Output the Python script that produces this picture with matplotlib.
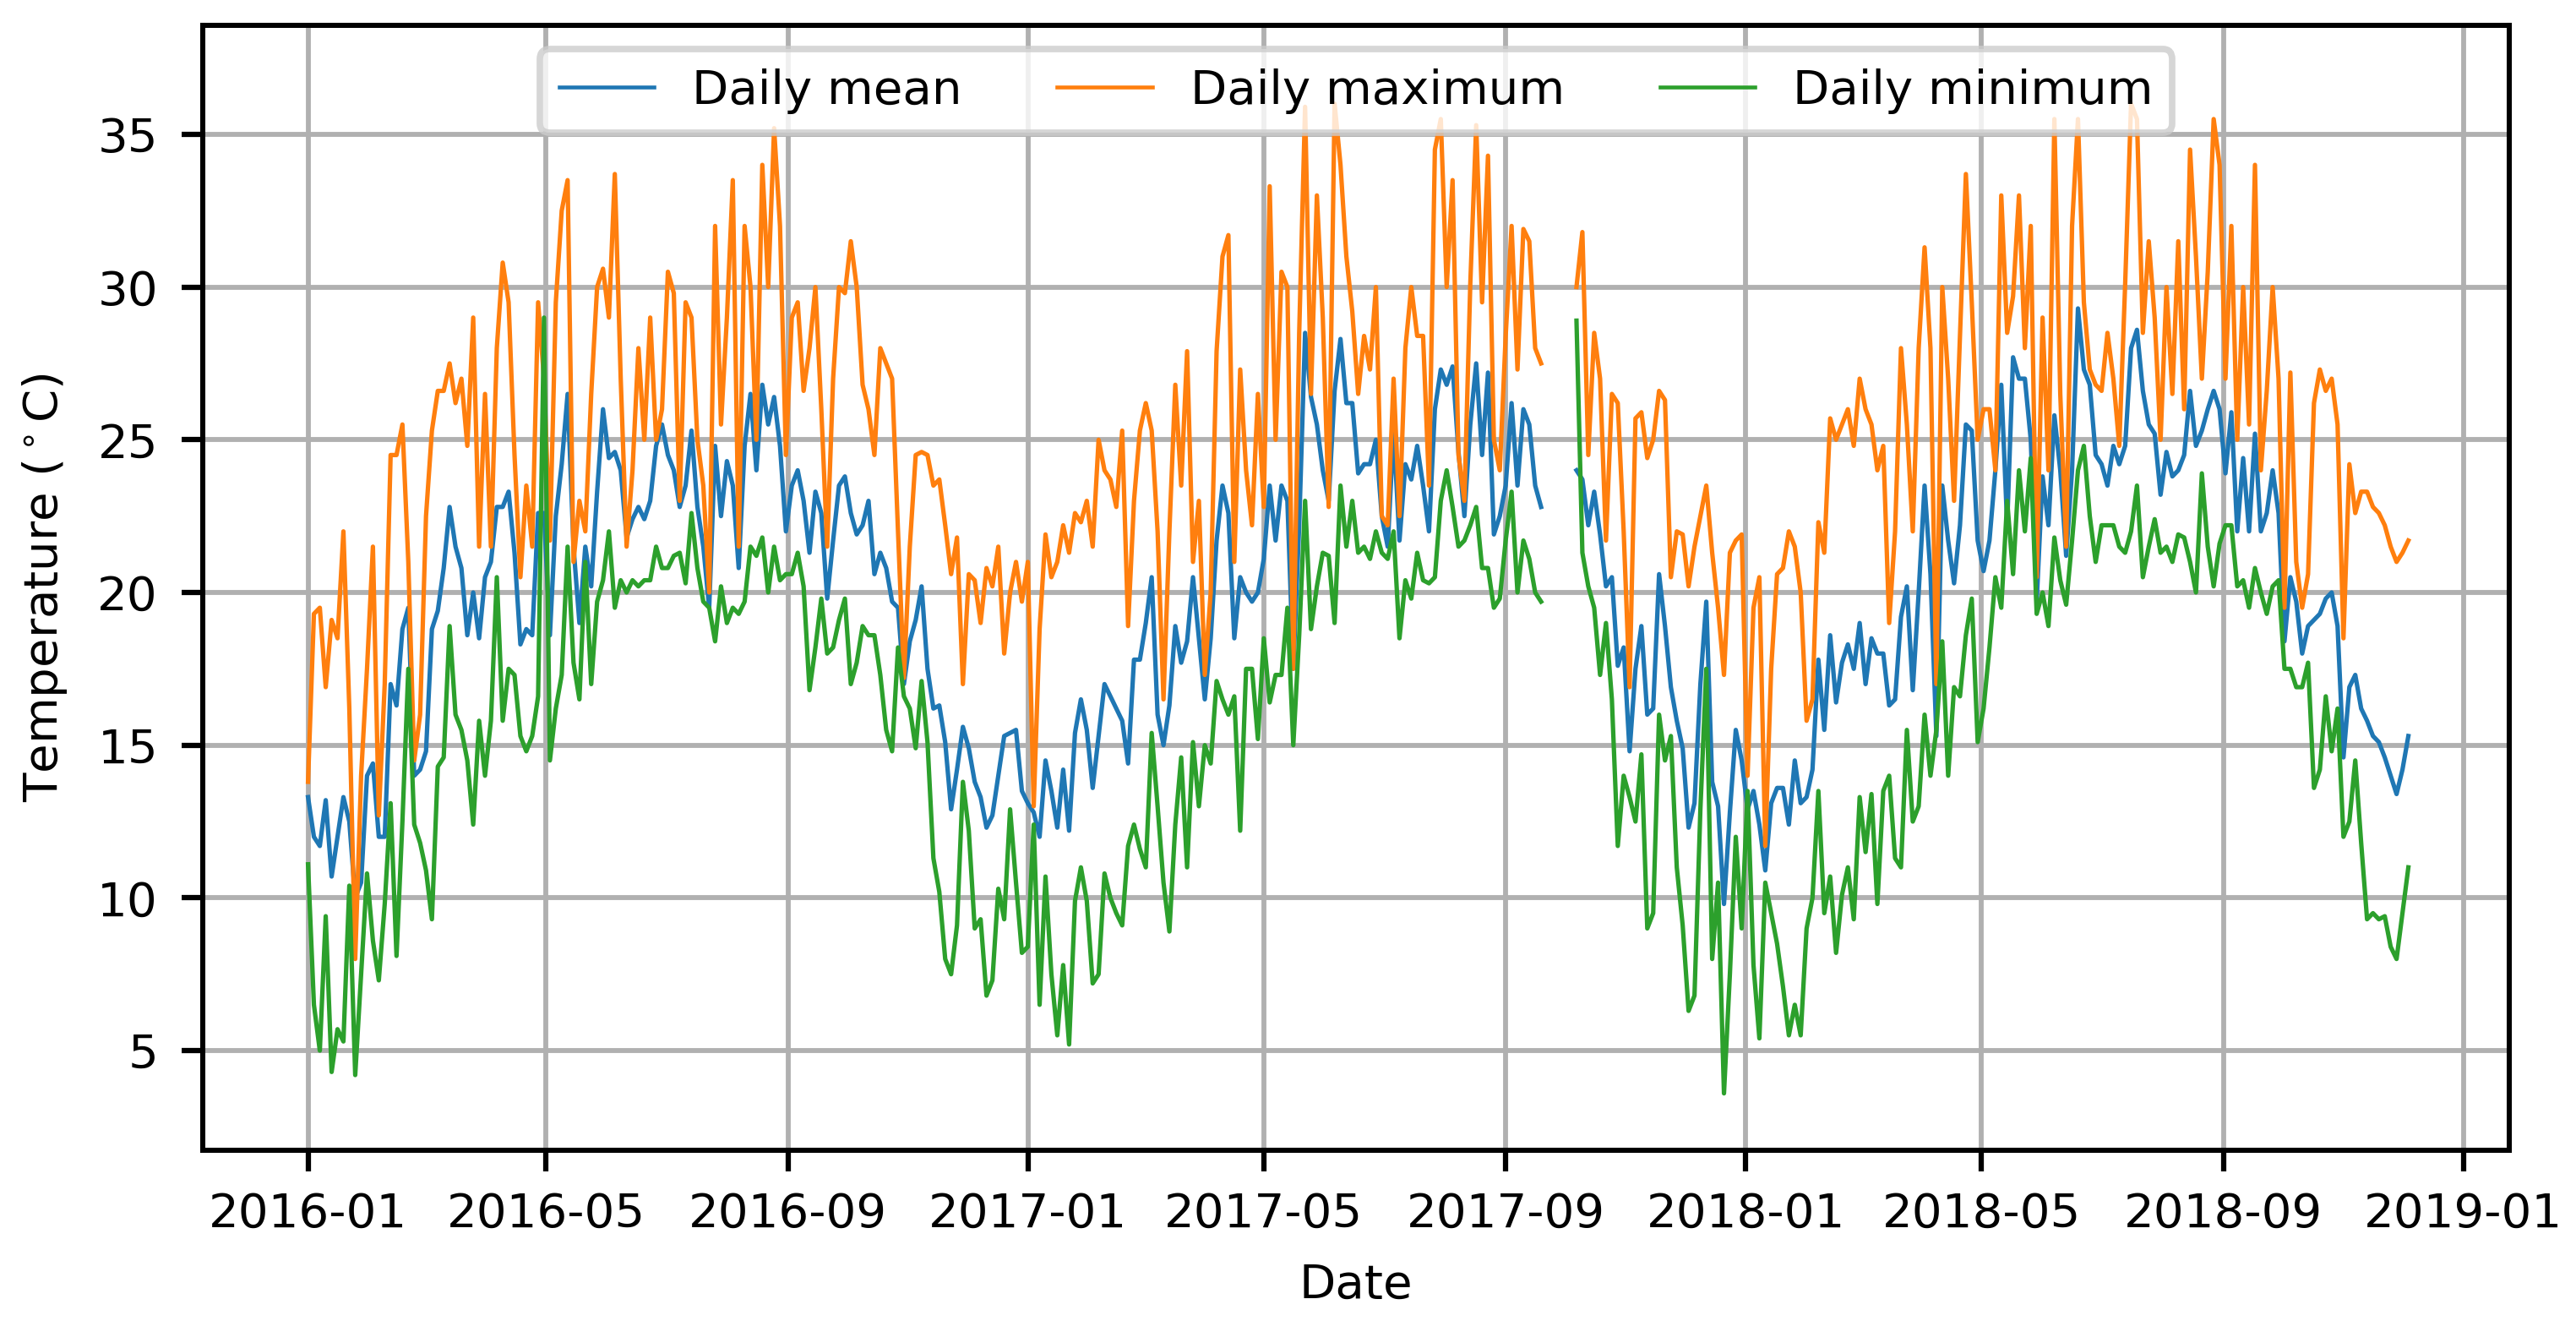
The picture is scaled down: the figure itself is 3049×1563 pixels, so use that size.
import numpy as np
import pandas as pd
import matplotlib
matplotlib.use("Agg")
import matplotlib.pyplot as plt
import matplotlib.dates as mdates

nan = np.nan

# values every 3 days from 2016-01-01 (gap late Sep 2017)
start = "2016-01-01"

daily_mean = [
    13.3, 12.0, 11.7, 13.2, 10.7, 12.0, 13.3, 12.5, 10.0, 10.5,
    14.0, 14.4, 12.0, 12.0, 17.0, 16.3, 18.8, 19.5, 14.0, 14.2,
    14.8, 18.8, 19.4, 20.8, 22.8, 21.5, 20.8, 18.6, 20.0, 18.5,
    20.5, 21.0, 22.8, 22.8, 23.3, 21.3, 18.3, 18.8, 18.6, 22.6,
    22.6, 18.6, 22.5, 24.2, 26.5, 21.5, 19.0, 21.5, 20.2, 23.3,
    26.0, 24.4, 24.6, 24.0, 21.8, 22.4, 22.8, 22.4, 23.0, 24.8,
    25.5, 24.5, 24.0,
    22.8, 23.5, 25.3, 22.8, 21.5, 19.5, 24.8, 22.5, 24.3, 23.5,
    20.8, 24.8, 26.5, 24.0, 26.8, 25.5, 26.4, 24.8, 22.0, 23.5,
    24.0, 23.0, 21.3, 23.3, 22.6, 19.8, 21.7, 23.5, 23.8, 22.6,
    21.9, 22.2, 23.0, 20.6, 21.3, 20.8, 19.7, 19.5, 17.0, 18.4,
    19.1, 20.2, 17.5, 16.2, 16.3, 15.1, 12.9, 14.2, 15.6, 14.9,
    13.8, 13.3, 12.3, 12.7, 14.0, 15.3, 15.4, 15.5, 13.5, 13.1,
    12.8, 12.0, 14.5,
    13.5, 12.3, 14.2, 12.2, 15.4, 16.5, 15.5, 13.6, 15.3, 17.0,
    16.6, 16.2, 15.8, 14.4, 17.8, 17.8, 19.0, 20.5, 16.0, 15.0,
    16.3, 18.9, 17.7, 18.4, 20.5, 18.5, 16.5, 18.5, 21.7, 23.5,
    22.6, 18.5, 20.5, 20.0, 19.7, 20.0, 21.1, 23.5, 21.7, 23.5,
    23.0, 17.5, 22.2, 28.5, 26.4, 25.5, 24.0, 23.0, 26.6, 28.3,
    26.2, 26.2, 23.9, 24.2, 24.2, 25.0, 22.5, 21.5, 25.3, 21.7,
    24.2, 23.7, 24.8,
    23.5, 22.0, 26.0, 27.3, 26.8, 27.4, 24.6, 22.5, 25.5, 27.5,
    24.5, 27.2, 21.9, 22.5, 23.5, 26.2, 23.5, 26.0, 25.5, 23.5,
    22.8, nan, nan, nan, nan, nan, 24.0, 23.7, 22.2, 23.3,
    21.9, 20.2, 20.5, 17.6, 18.2, 14.8, 17.5, 18.9, 16.0, 16.2,
    20.6, 18.9, 16.9, 15.8, 14.9, 12.3, 13.1, 17.0, 19.7, 13.8,
    13.0, 9.8, 12.8, 15.5, 14.5, 12.9, 13.5, 12.4, 10.9, 13.1,
    13.6, 13.6, 12.4,
    14.5, 13.1, 13.3, 14.2, 17.8, 15.5, 18.6, 16.4, 17.7, 18.3,
    17.5, 19.0, 17.0, 18.5, 18.0, 18.0, 16.3, 16.5, 19.2, 20.2,
    16.8, 20.0, 23.5, 20.6, 15.3, 23.5, 21.7, 20.3, 22.2, 25.5,
    25.3, 21.7, 20.7, 21.7, 24.0, 26.8, 22.2, 27.7, 27.0, 27.0,
    25.0, 19.7, 23.8, 22.2, 25.8, 24.0, 21.2, 24.0, 29.3, 27.3,
    26.8, 24.5, 24.2, 23.5, 24.8, 24.2, 24.8, 28.0, 28.6, 26.6,
    25.5, 25.2, 23.2,
    24.6, 23.8, 24.0, 24.5, 26.6, 24.8, 25.3, 26.0, 26.6, 26.0,
    23.9, 25.9, 22.0, 24.4, 22.0, 25.2, 22.0, 22.6, 24.0, 22.6,
    18.4, 20.5, 19.7, 18.0, 18.9, 19.1, 19.3, 19.8, 20.0, 18.9,
    14.6, 16.9, 17.3, 16.2, 15.8, 15.3, 15.1, 14.6, 14.0, 13.4,
    14.2, 15.3,
]

daily_max = [
    13.8, 19.3, 19.5, 16.9, 19.1, 18.5, 22.0, 16.2, 8.0, 14.0,
    17.5, 21.5, 12.7, 17.0, 24.5, 24.5, 25.5, 21.0, 14.5, 16.0,
    22.5, 25.3, 26.6, 26.6, 27.5, 26.2, 27.0, 24.8, 29.0, 21.5,
    26.5, 21.5, 28.0, 30.8, 29.5, 24.5, 20.5, 23.5, 21.5, 29.5,
    27.0, 21.7, 29.5, 32.5, 33.5, 21.0, 23.0, 22.0, 26.5, 30.0,
    30.6, 29.0, 33.7, 27.0, 21.5, 24.0, 28.0, 25.0, 29.0, 25.0,
    26.0, 30.5, 29.8,
    23.0, 29.5, 29.0, 25.0, 23.5, 20.0, 32.0, 25.5, 29.0, 33.5,
    21.5, 32.0, 30.0, 25.0, 34.0, 30.0, 35.2, 32.0, 24.5, 29.0,
    29.5, 26.6, 28.0, 30.0, 26.0, 21.5, 27.0, 30.0, 29.8, 31.5,
    30.0, 26.8, 26.0, 24.5, 28.0, 27.5, 27.0, 22.0, 17.2, 21.5,
    24.5, 24.6, 24.5, 23.5, 23.7, 22.2, 20.6, 21.8, 17.0, 20.6,
    20.4, 19.0, 20.8, 20.2, 21.5, 18.0, 20.0, 21.0, 19.7, 21.0,
    13.0, 18.8, 21.9,
    20.5, 21.0, 22.2, 21.3, 22.6, 22.3, 23.0, 21.5, 25.0, 24.0,
    23.7, 22.8, 25.3, 18.9, 23.0, 25.3, 26.2, 25.3, 22.0, 16.5,
    22.0, 26.8, 23.5, 27.9, 21.0, 23.0, 17.3, 20.0, 27.9, 31.0,
    31.7, 21.0, 27.3, 24.0, 22.2, 26.5, 22.8, 33.3, 25.0, 30.5,
    30.0, 17.5, 28.5, 35.9, 26.5, 33.0, 29.0, 22.8, 36.0, 34.0,
    31.0, 29.2, 26.5, 28.4, 27.3, 30.0, 22.5, 22.2, 27.0, 22.5,
    28.0, 30.0, 28.4,
    28.4, 23.5, 34.5, 35.5, 30.0, 33.5, 24.5, 23.0, 30.1, 35.3,
    29.5, 34.3, 25.0, 24.0, 28.4, 32.0, 27.3, 31.9, 31.5, 28.0,
    27.5, nan, nan, nan, nan, nan, 30.0, 31.8, 24.5, 28.5,
    27.0, 21.7, 26.5, 26.2, 22.0, 16.9, 25.7, 25.9, 24.4, 25.0,
    26.6, 26.3, 20.5, 22.0, 21.9, 20.2, 21.5, 22.5, 23.5, 21.3,
    19.5, 17.3, 21.3, 21.7, 21.9, 14.0, 19.5, 20.5, 11.7, 17.5,
    20.6, 20.8, 22.0,
    21.5, 20.0, 15.8, 16.5, 22.3, 21.3, 25.7, 25.0, 25.5, 26.0,
    24.8, 27.0, 26.0, 25.5, 24.0, 24.8, 19.0, 22.0, 28.0, 25.5,
    22.0, 28.0, 31.3, 28.0, 17.0, 30.0, 27.0, 23.0, 28.4, 33.7,
    29.5, 25.0, 26.0, 26.0, 24.0, 33.0, 28.5, 29.7, 33.0, 28.0,
    32.0, 20.5, 29.0, 24.0, 35.5, 26.5, 21.5, 32.0, 35.5, 29.5,
    27.3, 26.8, 26.6, 28.5, 27.0, 24.8, 30.1, 36.0, 35.5, 28.5,
    31.5, 29.0, 25.0,
    30.0, 26.5, 31.5, 26.0, 34.5, 31.0, 27.0, 30.5, 35.5, 34.0,
    27.0, 32.0, 25.0, 30.0, 25.5, 34.0, 24.0, 26.6, 30.0, 27.0,
    19.5, 27.2, 21.0, 19.5, 20.6, 26.2, 27.3, 26.6, 27.0, 25.5,
    18.5, 24.2, 22.6, 23.3, 23.3, 22.8, 22.6, 22.2, 21.5, 21.0,
    21.3, 21.7,
]

daily_min = [
    11.1, 6.5, 5.0, 9.4, 4.3, 5.7, 5.3, 10.4, 4.2, 7.5,
    10.8, 8.6, 7.3, 9.8, 13.1, 8.1, 12.5, 17.5, 12.4, 11.8,
    10.9, 9.3, 14.3, 14.6, 18.9, 16.0, 15.5, 14.5, 12.4, 15.8,
    14.0, 15.8, 20.5, 15.8, 17.5, 17.3, 15.3, 14.8, 15.3, 16.6,
    29.0, 14.5, 16.2, 17.3, 21.5, 17.7, 16.5, 21.0, 17.0, 19.7,
    20.4, 22.0, 19.5, 20.4, 20.0, 20.4, 20.2, 20.4, 20.4, 21.5,
    20.8, 20.8, 21.2,
    21.3, 20.3, 22.6, 20.8, 19.7, 19.5, 18.4, 20.2, 19.0, 19.5,
    19.3, 19.7, 21.5, 21.2, 21.8, 20.0, 21.5, 20.4, 20.6, 20.6,
    21.3, 20.2, 16.8, 18.2, 19.8, 18.0, 18.2, 19.1, 19.8, 17.0,
    17.7, 18.9, 18.6, 18.6, 17.3, 15.5, 14.8, 18.2, 16.6, 16.2,
    14.9, 17.1, 15.1, 11.3, 10.2, 8.0, 7.5, 9.1, 13.8, 12.2,
    9.0, 9.3, 6.8, 7.3, 10.3, 9.3, 12.9, 10.5, 8.2, 8.4,
    12.4, 6.5, 10.7,
    7.5, 5.5, 7.8, 5.2, 9.9, 11.0, 9.9, 7.2, 7.5, 10.8,
    10.0, 9.5, 9.1, 11.7, 12.4, 11.6, 11.0, 15.4, 13.0, 10.5,
    8.9, 12.4, 14.6, 11.0, 15.1, 13.0, 15.0, 14.4, 17.1, 16.5,
    16.0, 16.6, 12.2, 17.5, 17.5, 15.2, 18.5, 16.4, 17.3, 17.3,
    19.5, 15.0, 18.6, 23.0, 18.8, 20.2, 21.3, 21.2, 19.0, 23.5,
    21.5, 23.0, 21.3, 21.5, 21.1, 22.0, 21.3, 21.1, 22.0, 18.5,
    20.4, 19.8, 21.3,
    20.4, 20.3, 20.5, 23.0, 24.0, 22.8, 21.5, 21.7, 22.2, 22.8,
    20.8, 20.8, 19.5, 19.8, 21.7, 23.3, 20.0, 21.7, 21.1, 20.0,
    19.7, nan, nan, nan, nan, nan, 28.9, 21.3, 20.2, 19.5,
    17.3, 19.0, 16.5, 11.7, 14.0, 13.3, 12.5, 14.7, 9.0, 9.5,
    16.0, 14.5, 15.3, 11.0, 9.1, 6.3, 6.8, 12.9, 17.5, 8.0,
    10.5, 3.6, 7.5, 12.0, 9.0, 13.5, 7.8, 5.4, 10.5, 9.5,
    8.5, 7.1, 5.5,
    6.5, 5.5, 9.0, 10.0, 13.5, 9.5, 10.7, 8.2, 10.1, 11.0,
    9.3, 13.3, 11.5, 13.4, 9.8, 13.5, 14.0, 11.3, 11.0, 15.5,
    12.5, 13.0, 16.0, 14.0, 15.5, 18.4, 14.0, 16.9, 16.6, 18.6,
    19.8, 15.1, 16.2, 18.2, 20.5, 19.5, 23.0, 20.6, 24.0, 22.0,
    24.4, 19.3, 20.0, 18.9, 21.8, 20.4, 19.6, 21.7, 24.0, 24.8,
    22.5, 21.0, 22.2, 22.2, 22.2, 21.5, 21.3, 22.0, 23.5, 20.5,
    21.5, 22.4, 21.3,
    21.5, 21.0, 21.9, 21.8, 21.0, 20.0, 23.9, 21.5, 20.2, 21.6,
    22.2, 22.2, 20.2, 20.4, 19.5, 20.8, 20.0, 19.3, 20.2, 20.4,
    17.5, 17.5, 16.9, 16.9, 17.7, 13.6, 14.2, 16.6, 14.8, 16.2,
    12.0, 12.5, 14.5, 11.8, 9.3, 9.5, 9.3, 9.4, 8.4, 8.0,
    9.5, 11.0,
]

dates = pd.date_range(start, periods=len(daily_mean), freq="3D")

fs = 13.5

fig = plt.figure(figsize=(10.164, 5.2101), dpi=300)
ax = fig.add_axes([0.0788, 0.1292, 0.8953, 0.8514])

ax.plot(dates, daily_mean, color="tab:blue", lw=1.25, label="Daily mean")
ax.plot(dates, daily_max, color="tab:orange", lw=1.25, label="Daily maximum")
ax.plot(dates, daily_min, color="tab:green", lw=1.25, label="Daily minimum")

t0 = pd.Timestamp(start)
ax.set_xlim(t0 - pd.Timedelta(days=53.4), t0 + pd.Timedelta(days=1119.4))
ax.set_ylim(1.735, 38.56)

ax.xaxis.set_major_locator(mdates.MonthLocator(bymonth=[1, 5, 9]))
ax.xaxis.set_major_formatter(mdates.DateFormatter("%Y-%m"))
ax.set_yticks([5, 10, 15, 20, 25, 30, 35])

ax.tick_params(labelsize=fs, length=6.1, width=1.5)
ax.tick_params(axis="x", pad=5.5)
ax.tick_params(axis="y", pad=6.7)
for sp in ax.spines.values():
    sp.set_linewidth(1.45)

ax.grid(True, color="#b0b0b0", linewidth=1.4)

ax.set_xlabel("Date", fontsize=fs)
ax.set_ylabel(r"Temperature ($^\circ$C)", fontsize=fs)
ax.xaxis.set_label_coords(0.5, -0.100)
ax.yaxis.set_label_coords(-0.058, 0.5)

leg = ax.legend(loc="upper center", ncol=3, fontsize=fs)
leg.get_frame().set_linewidth(1.85)
for h in leg.get_lines():
    h.set_linewidth(1.1)

fig.savefig("out.png", dpi=300)
